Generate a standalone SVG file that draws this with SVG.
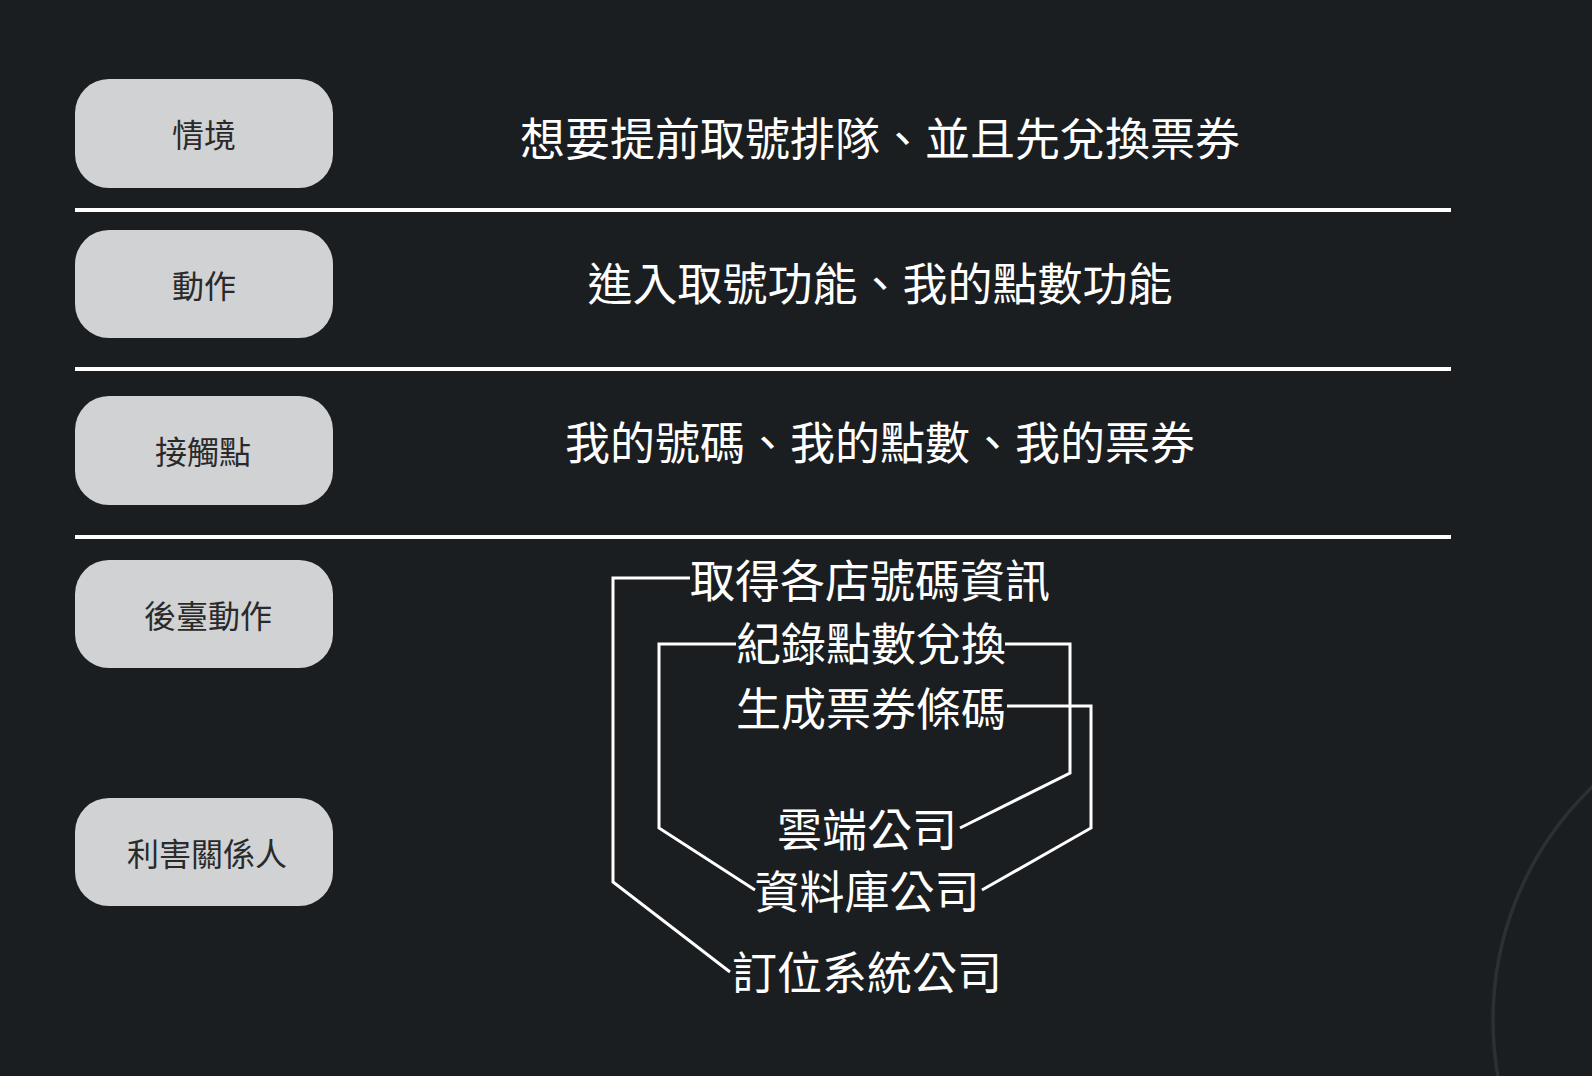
<svg xmlns="http://www.w3.org/2000/svg" width="1592" height="1076" viewBox="0 0 1592 1076">
<style>
.bg{fill:#1b1e20}
.box{fill:#d1d2d4}
.lbl{font-family:"Noto Sans CJK TC","Noto Sans CJK SC",sans-serif;font-size:32px;fill:#2a2a2a;text-anchor:middle;dominant-baseline:central}
.big{font-family:"Noto Sans CJK TC","Noto Sans CJK SC",sans-serif;font-size:45px;fill:#ffffff;text-anchor:middle;dominant-baseline:central}
.sep{stroke:#ffffff;stroke-width:4;fill:none}
.con{stroke:#ffffff;stroke-width:3;fill:none;stroke-linejoin:miter}
</style>
<rect class="bg" x="0" y="0" width="1592" height="1076"/>
<circle cx="1816" cy="1020" r="323" fill="none" stroke="#2d3032" stroke-width="3.5"/>

<g id="separators">
<line class="sep" x1="75" y1="210" x2="1451" y2="210"/>
<line class="sep" x1="75" y1="369" x2="1451" y2="369"/>
<line class="sep" x1="75" y1="537" x2="1451" y2="537"/>
</g>

<g id="node-scenario"><rect class="box" x="75" y="79" width="258" height="109" rx="34"/><text class="lbl" x="204" y="133">情境</text></g>
<g id="node-action"><rect class="box" x="75" y="230" width="258" height="108" rx="34"/><text class="lbl" x="204" y="284">動作</text></g>
<g id="node-touchpoint"><rect class="box" x="75" y="396" width="258" height="109" rx="34"/><text class="lbl" x="203" y="450">接觸點</text></g>
<g id="node-backend"><rect class="box" x="75" y="560" width="258" height="108" rx="34"/><text class="lbl" x="208" y="614">後臺動作</text></g>
<g id="node-stakeholder"><rect class="box" x="75" y="798" width="258" height="108" rx="34"/><text class="lbl" x="207" y="852">利害關係人</text></g>

<g id="text-scenario"><text class="big" x="880" y="136">想要提前取號排隊、並且先兌換票券</text></g>
<g id="text-action"><text class="big" x="880" y="281">進入取號功能、我的點數功能</text></g>
<g id="text-touchpoint"><text class="big" x="880" y="440">我的號碼、我的點數、我的票券</text></g>

<g id="task-queue"><text class="big" x="870" y="578">取得各店號碼資訊</text></g>
<g id="task-points"><text class="big" x="871" y="641">紀錄點數兌換</text></g>
<g id="task-barcode"><text class="big" x="871" y="706">生成票券條碼</text></g>
<g id="party-cloud"><text class="big" x="867" y="827">雲端公司</text></g>
<g id="party-db"><text class="big" x="867" y="889">資料庫公司</text></g>
<g id="party-booking"><text class="big" x="867" y="970">訂位系統公司</text></g>

<g id="connectors">
<path class="con" d="M690,578 H613 V882 L730,972"/>
<path class="con" d="M736,644 H659 V828 L755,890"/>
<path class="con" d="M1005,644 H1070 V773 L960,828"/>
<path class="con" d="M1007,706 H1091 V828 L982,890"/>
</g>
</svg>
